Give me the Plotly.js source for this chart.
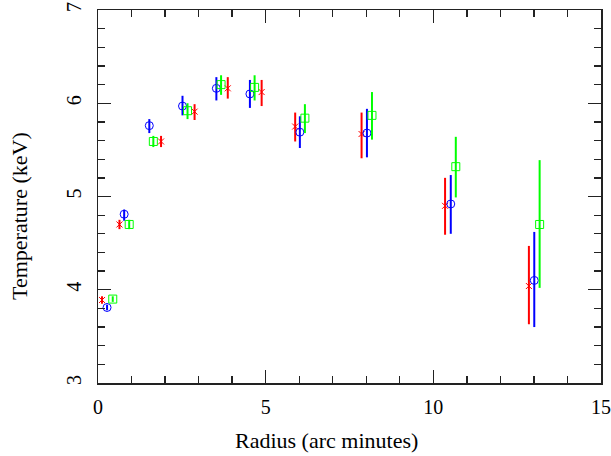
<!DOCTYPE html>
<html>
<head>
<meta charset="utf-8">
<script src="https://cdn.plot.ly/plotly-3.0.1.min.js"></script>
<style>html,body{margin:0;padding:0;background:#fff;}#chart{width:611px;height:456px;}</style>
</head>
<body>
<div id="chart"></div>
<script>
// Blue (circles)
const blueX  = [0.27, 0.78, 1.53, 2.52, 3.53, 4.53, 6.02, 8.02, 10.52, 13.01];
const blueY  = [3.81, 4.81, 5.76, 5.97, 6.16, 6.10, 5.69, 5.68, 4.92, 4.10];
const blueHi = [3.84, 4.86, 5.83, 6.08, 6.28, 6.25, 5.86, 5.94, 5.23, 4.62];
const blueLo = [3.78, 4.74, 5.68, 5.87, 6.03, 5.95, 5.52, 5.42, 4.60, 3.60];
// Red (crosses)
const redX  = [0.12, 0.64, 1.88, 2.88, 3.87, 4.88, 5.88, 7.86, 10.35, 12.85];
const redY  = [3.89, 4.70, 5.59, 5.91, 6.16, 6.12, 5.75, 5.67, 4.90, 4.04];
const redHi = [3.93, 4.75, 5.65, 5.99, 6.28, 6.25, 5.90, 5.90, 5.20, 4.47];
const redLo = [3.85, 4.65, 5.53, 5.82, 6.05, 5.97, 5.59, 5.41, 4.59, 3.63];
// Green (squares)
const greenX  = [0.44, 0.93, 1.65, 2.67, 3.67, 4.67, 6.17, 8.17, 10.67, 13.17];
const greenY  = [3.90, 4.70, 5.59, 5.92, 6.20, 6.17, 5.84, 5.87, 5.32, 4.70];
const greenHi = [3.93, 4.75, 5.65, 6.00, 6.30, 6.30, 5.99, 6.12, 5.64, 5.39];
const greenLo = [3.87, 4.65, 5.53, 5.83, 6.09, 6.03, 5.68, 5.61, 4.99, 4.02];

const xTitle = 'Radius (arc minutes)';
const yTitle = 'Temperature (keV)';

function mk(x, y, hi, lo, color, symbol, size) {
  return {
    type: 'scatter', mode: 'markers', x: x, y: y,
    marker: {symbol: symbol, size: size, color: color, line: {color: color, width: 1}},
    error_y: {type: 'data', symmetric: false,
      array: y.map((v, i) => hi[i] - v),
      arrayminus: y.map((v, i) => v - lo[i]),
      color: color, thickness: 2, width: 0},
    hoverinfo: 'skip', showlegend: false
  };
}

const data = [
  mk(redX, redY, redHi, redLo, '#ff0000', 'x-thin-open', 6),
  mk(blueX, blueY, blueHi, blueLo, '#0000ff', 'circle-open', 8),
  mk(greenX, greenY, greenHi, greenLo, '#00ff00', 'square-open', 8)
];

const fontFam = '"Liberation Serif", "Times New Roman", serif';
const axisCommon = {
  showline: true, linecolor: '#222', linewidth: 1.5, mirror: 'allticks',
  ticks: 'inside', ticklen: 13, tickwidth: 1.3, tickcolor: '#222',
  showgrid: false, zeroline: false,
  tickfont: {family: fontFam, size: 20, color: '#000'},
  minor: {ticks: 'inside', ticklen: 7, tickwidth: 1.3, tickcolor: '#222', showgrid: false}
};

const layout = {
  width: 611, height: 456,
  margin: {l: 98, r: 10, t: 10, b: 73},
  paper_bgcolor: '#fff', plot_bgcolor: '#fff',
  xaxis: Object.assign({}, axisCommon, {
    range: [0, 15], dtick: 5, tick0: 0, ticklabelstandoff: 5,
    minor: Object.assign({}, axisCommon.minor, {dtick: 1})
  }),
  yaxis: Object.assign({}, axisCommon, {
    range: [3, 7], dtick: 1, tick0: 3, tickangle: -90, ticklabelstandoff: 8,
    minor: Object.assign({}, axisCommon.minor, {dtick: 0.2})
  }),
  annotations: [
    {text: xTitle, xref: 'paper', yref: 'paper', x: 0.455, y: -0.153,
     xanchor: 'center', yanchor: 'middle', showarrow: false,
     font: {family: fontFam, size: 22, color: '#000'}},
    {text: yTitle, xref: 'paper', yref: 'paper', x: -0.155, y: 0.448,
     xanchor: 'center', yanchor: 'middle', showarrow: false, textangle: -90,
     font: {family: fontFam, size: 22, color: '#000'}}
  ]
};

Plotly.newPlot('chart', data, layout, {staticPlot: true, displayModeBar: false});
</script>
</body>
</html>
